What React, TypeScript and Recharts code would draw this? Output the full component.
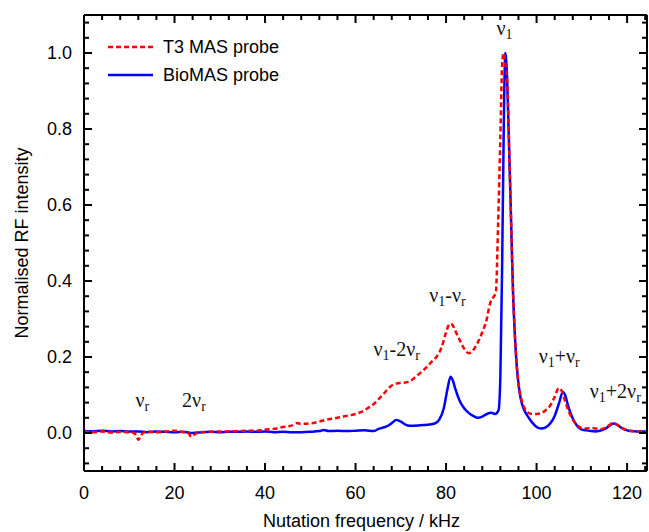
import { LineChart, Line, XAxis, YAxis, Legend, ReferenceDot } from "recharts";

// [frequency kHz, normalised intensity]
const t3MasPoints: [number, number][] = [
  [0, 0.003], [2, 0.002], [4, 0.004], [6, 0.001], [8, 0.003], [10, 0.002], [11, 0.0], [11.6, -0.008],
  [12, -0.018], [12.5, -0.01], [13, 0.0], [14, 0.003], [16, 0.002], [18, 0.004], [20, 0.006], [22, 0.002],
  [23, 0.0], [23.7, -0.01], [24.4, -0.004], [25, 0.0], [26, 0.002], [28, 0.003], [30, 0.004], [32, 0.004],
  [34, 0.005], [36, 0.006], [38, 0.006], [40, 0.009], [42, 0.011], [44, 0.016], [46, 0.02], [47, 0.026],
  [48, 0.024], [50, 0.025], [52, 0.03], [54, 0.036], [56, 0.04], [58, 0.045], [60, 0.05], [62, 0.06],
  [63, 0.068], [64, 0.076], [65, 0.088], [66, 0.1], [67, 0.114], [68, 0.125], [69, 0.13], [70, 0.132],
  [71, 0.133], [72, 0.136], [73, 0.145], [74, 0.155], [75, 0.165], [76, 0.177], [77, 0.19], [78, 0.202],
  [79, 0.225], [80, 0.265], [80.5, 0.282], [81, 0.288], [81.5, 0.283], [82, 0.27], [83, 0.245], [84, 0.222],
  [85, 0.21], [86, 0.218], [87, 0.238], [88, 0.265], [89, 0.3], [89.5, 0.33], [90, 0.35], [90.5, 0.358],
  [91, 0.37], [91.5, 0.55], [92, 0.78], [92.4, 0.97], [92.7, 1.0], [93.1, 0.97], [93.5, 0.93], [94, 0.72],
  [94.3, 0.59], [94.8, 0.37], [95.2, 0.26], [95.6, 0.18], [96, 0.13], [96.5, 0.095], [97, 0.075], [97.5, 0.062],
  [98, 0.055], [99, 0.05], [100, 0.05], [101, 0.052], [102, 0.06], [103, 0.072], [104, 0.095], [104.9, 0.118],
  [105.5, 0.112], [106, 0.095], [107, 0.06], [108, 0.035], [109, 0.02], [110, 0.013], [111, 0.012], [112, 0.013],
  [113, 0.012], [114, 0.01], [115, 0.013], [116, 0.02], [116.8, 0.026], [117.5, 0.024], [118, 0.02], [119, 0.012],
  [120, 0.007], [121, 0.005], [122, 0.004], [124.4, 0.004],
];

const bioMasPoints: [number, number][] = [
  [0, 0.005], [2, 0.004], [4, 0.006], [6, 0.004], [8, 0.005], [10, 0.004], [12, 0.004], [14, 0.002],
  [16, 0.004], [18, 0.003], [20, 0.002], [22, 0.003], [24, 0.0], [26, 0.002], [28, 0.003], [30, 0.002],
  [32, 0.003], [34, 0.003], [36, 0.004], [38, 0.003], [40, 0.004], [42, 0.002], [44, 0.003], [46, 0.002],
  [48, 0.002], [50, 0.003], [52, 0.005], [53, 0.008], [54, 0.005], [56, 0.006], [58, 0.005], [60, 0.006],
  [62, 0.007], [64, 0.005], [65, 0.01], [66, 0.014], [67, 0.018], [68, 0.026], [69, 0.034], [70, 0.03],
  [71, 0.022], [72, 0.019], [74, 0.02], [76, 0.022], [77.5, 0.025], [78.5, 0.035], [79.5, 0.065], [80.3, 0.115],
  [81, 0.148], [81.5, 0.138], [82, 0.118], [83, 0.085], [84, 0.065], [85, 0.053], [86, 0.045], [87, 0.04],
  [88, 0.043], [89, 0.05], [90, 0.053], [90.8, 0.05], [91.6, 0.06], [92, 0.15], [92.4, 0.45], [92.8, 0.85],
  [93.1, 1.0], [93.5, 0.93], [94, 0.72], [94.3, 0.59], [94.8, 0.37], [95.2, 0.26], [95.6, 0.18], [96, 0.13],
  [96.5, 0.09], [97, 0.068], [97.5, 0.055], [98, 0.045], [99, 0.028], [100, 0.016], [101, 0.012], [102, 0.015],
  [103, 0.025], [104, 0.045], [105, 0.08], [105.8, 0.108], [106.3, 0.1], [107, 0.07], [108, 0.038], [109, 0.018],
  [110, 0.009], [111, 0.007], [112, 0.005], [113, 0.004], [114, 0.006], [115, 0.01], [116, 0.018], [117, 0.025],
  [118, 0.02], [119, 0.012], [120, 0.007], [121, 0.005], [122, 0.004], [124.4, 0.004],
];

const xTicks = [0, 4, 8, 12, 16, 20, 24, 28, 32, 36, 40, 44, 48, 52, 56, 60, 64, 68, 72, 76, 80, 84, 88, 92, 96, 100, 104, 108, 112, 116, 120, 124];
const yTicks = [-0.08, -0.04, 0, 0.04, 0.08, 0.12, 0.16, 0.2, 0.24, 0.28, 0.32, 0.36, 0.4, 0.44, 0.48, 0.52, 0.56, 0.6, 0.64, 0.68, 0.72, 0.76, 0.8, 0.84, 0.88, 0.92, 0.96, 1.0, 1.04, 1.08];
const X_MIN = 0;
const X_MAX = 124.4;
const Y_MIN = -0.1;
const Y_MAX = 1.1;

// sideband annotations: parts alternate main text / subscript
const annotations: { f: number; v: number; parts: string[] }[] = [
  { f: 12.9, v: 0.068, parts: ["ν", "r"] },
  { f: 24.3, v: 0.068, parts: ["2ν", "r"] },
  { f: 69.1, v: 0.203, parts: ["ν", "1", "-2ν", "r"] },
  { f: 80.3, v: 0.345, parts: ["ν", "1", "-ν", "r"] },
  { f: 92.9, v: 1.047, parts: ["ν", "1"] },
  { f: 105.0, v: 0.184, parts: ["ν", "1", "+ν", "r"] },
  { f: 117.4, v: 0.092, parts: ["ν", "1", "+2ν", "r"] },
];

const t3Data = t3MasPoints.map(([f, v]) => ({ f, v }));
const bioData = bioMasPoints.map(([f, v]) => ({ f, v }));

const SANS = "'Liberation Sans', Arial, sans-serif";
const SERIF = "'Liberation Serif', 'Times New Roman', serif";
const RED = "#ff0000";
const BLUE = "#0000ff";

const isMajorX = (v: number) => v % 20 === 0;
const isMajorY = (v: number) => v >= 0 && v <= 1 && Math.abs(v * 5 - Math.round(v * 5)) < 1e-6;

const bottomLabel = ({ x, y, payload }: any) =>
  isMajorX(payload.value) ? (
    <text x={x} y={y + 28} textAnchor="middle" fontFamily={SANS} fontSize={18} fill="#000">
      {payload.value}
    </text>
  ) : (
    <g />
  );

const leftLabel = ({ x, y, payload }: any) =>
  isMajorY(payload.value) ? (
    <text x={x - 12} y={y + 6} textAnchor="end" fontFamily={SANS} fontSize={18} fill="#000">
      {Number(payload.value).toFixed(1)}
    </text>
  ) : (
    <g />
  );

// inward tick mark drawn at a point on the frame
function tickShape(dx: number, dy: number, major: boolean) {
  const len = major ? 8 : 5;
  return ({ cx, cy }: any) => (
    <line x1={cx} y1={cy} x2={cx + dx * len} y2={cy + dy * len} stroke="#000" strokeWidth={2} />
  );
}

function LegendBox() {
  return (
    <svg width={200} height={60}>
      <line x1={8} x2={53} y1={17} y2={17} stroke={RED} strokeWidth={2.5} strokeDasharray="5 3" />
      <text x={63} y={23} fontFamily={SANS} fontSize={18} fill="#000">T3 MAS probe</text>
      <line x1={8} x2={53} y1={45} y2={45} stroke={BLUE} strokeWidth={2.5} />
      <text x={63} y={51} fontFamily={SANS} fontSize={18} fill="#000">BioMAS probe</text>
    </svg>
  );
}

function annotationShape(parts: string[]) {
  return ({ cx, cy }: any) => (
    <text x={cx} y={cy} textAnchor="middle" fontFamily={SERIF} fontSize={20} fill="#111">
      {parts.map((p, i) =>
        i % 2 === 0 ? (
          <tspan key={i} fontSize={20} dy={i === 0 ? 0 : -4}>{p}</tspan>
        ) : (
          <tspan key={i} fontSize={14} dy={4}>{p}</tspan>
        )
      )}
    </text>
  );
}

const axisLine = { stroke: "#000", strokeWidth: 2 };

export default function App() {
  return (
    <div style={{ position: "absolute", left: 0, top: 0 }}>
      <LineChart width={649} height={532} margin={{ top: 14, right: 1, bottom: 0, left: 0 }}>
        <XAxis
          xAxisId="b" type="number" dataKey="f" domain={[X_MIN, X_MAX]} ticks={xTicks} interval={0}
          allowDataOverflow height={61} tickSize={0} tickMargin={0} tickLine={false}
          axisLine={axisLine} tick={bottomLabel}
          label={{
            content: ({ viewBox }: any) => (
              <text x={viewBox.x + viewBox.width / 2 - 4} y={viewBox.y + 56} textAnchor="middle" fontFamily={SANS} fontSize={18} fill="#000">
                Nutation frequency / kHz
              </text>
            ),
          }}
        />
        <XAxis
          xAxisId="t" orientation="top" type="number" dataKey="f" domain={[X_MIN, X_MAX]}
          allowDataOverflow height={1} tickLine={false} tick={false} axisLine={axisLine}
        />
        <YAxis
          yAxisId="l" type="number" domain={[Y_MIN, Y_MAX]} ticks={yTicks} interval={0} allowDataOverflow
          width={84} tickSize={0} tickMargin={0} tickLine={false}
          axisLine={axisLine} tick={leftLabel}
          label={{
            content: ({ viewBox }: any) => {
              const cy = viewBox.y + viewBox.height / 2;
              return (
                <text x={28} y={cy} transform={`rotate(-90 28 ${cy})`} textAnchor="middle" fontFamily={SANS} fontSize={18} fill="#000">
                  Normalised RF intensity
                </text>
              );
            },
          }}
        />
        <YAxis
          yAxisId="r" orientation="right" type="number" domain={[Y_MIN, Y_MAX]}
          allowDataOverflow width={1} tickLine={false} tick={false} axisLine={axisLine}
        />
        <Legend
          layout="vertical" align="center" verticalAlign="middle"
          wrapperStyle={{ left: 100, top: 30, width: 200 }}
          content={() => <LegendBox />}
        />
        <Line
          xAxisId="b" yAxisId="l" data={bioData} dataKey="v" type="monotone" stroke={BLUE}
          strokeWidth={2.5} dot={false} activeDot={false} isAnimationActive={false} name="BioMAS probe"
        />
        <Line
          xAxisId="b" yAxisId="l" data={t3Data} dataKey="v" type="monotone" stroke={RED}
          strokeWidth={2.5} strokeDasharray="5 3" dot={false} activeDot={false} isAnimationActive={false} name="T3 MAS probe"
        />
        {xTicks.map((t) => (
          <ReferenceDot key={`xb${t}`} xAxisId="b" yAxisId="l" x={t} y={Y_MIN} r={0} ifOverflow="visible" shape={tickShape(0, -1, isMajorX(t))} />
        ))}
        {xTicks.map((t) => (
          <ReferenceDot key={`xt${t}`} xAxisId="b" yAxisId="l" x={t} y={Y_MAX} r={0} ifOverflow="visible" shape={tickShape(0, 1, isMajorX(t))} />
        ))}
        {yTicks.map((t) => (
          <ReferenceDot key={`yl${t}`} xAxisId="b" yAxisId="l" x={X_MIN} y={t} r={0} ifOverflow="visible" shape={tickShape(1, 0, isMajorY(t))} />
        ))}
        {yTicks.map((t) => (
          <ReferenceDot key={`yr${t}`} xAxisId="b" yAxisId="l" x={X_MAX} y={t} r={0} ifOverflow="visible" shape={tickShape(-1, 0, isMajorY(t))} />
        ))}
        {annotations.map((a, i) => (
          <ReferenceDot
            key={`a${i}`} xAxisId="b" yAxisId="l" x={a.f} y={a.v} r={0} ifOverflow="visible"
            shape={annotationShape(a.parts)}
          />
        ))}
      </LineChart>
    </div>
  );
}
